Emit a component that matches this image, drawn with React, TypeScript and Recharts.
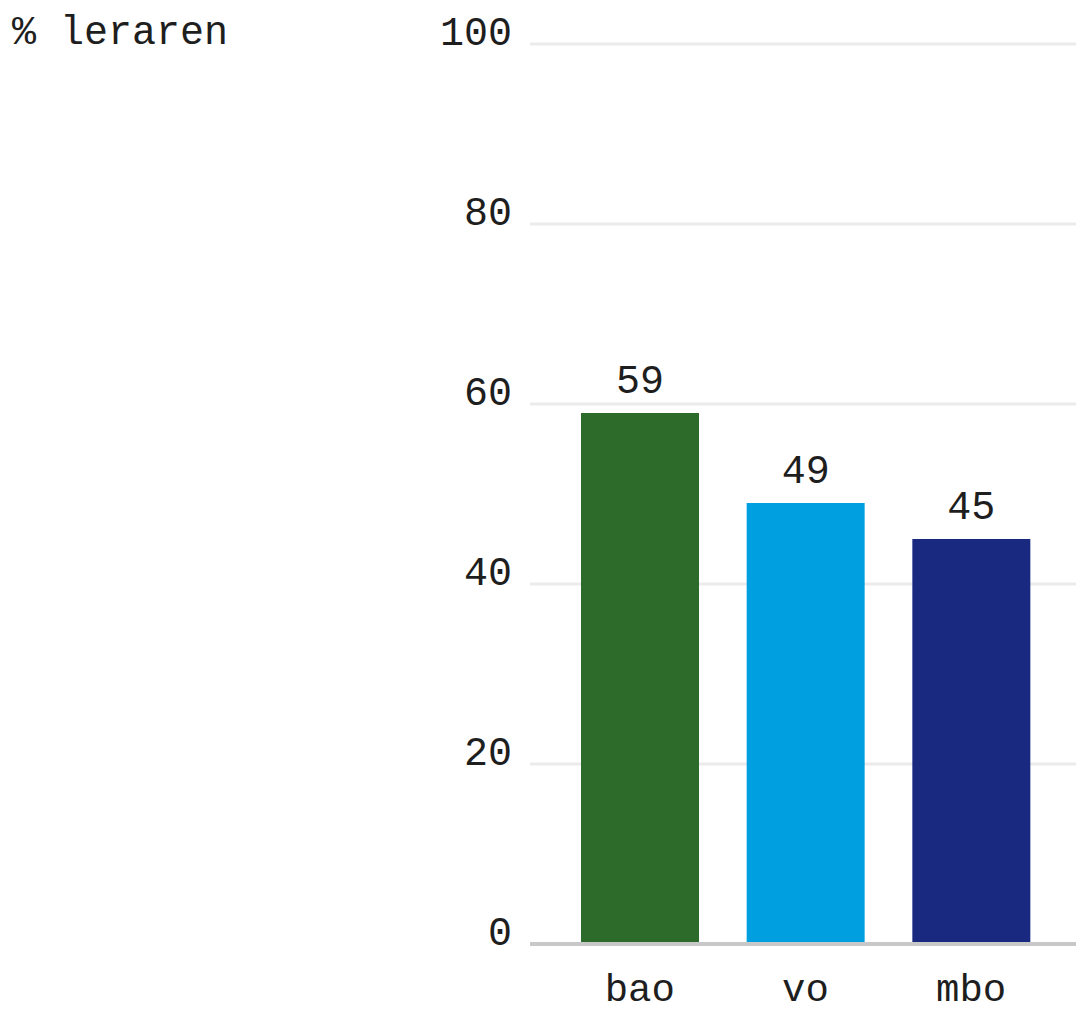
import { BarChart, Bar, XAxis, YAxis, CartesianGrid, Cell, LabelList } from 'recharts';

const categorieen = ['bao', 'vo', 'mbo'];
const percentages = [59, 49, 45];
const kleuren = ['#2d6b2a', '#009fe0', '#1a2980'];
const yTicks = [0, 20, 40, 60, 80, 100];

const data = categorieen.map((c, i) => ({ sector: c, waarde: percentages[i] }));

const FONT = '"Liberation Mono", "DejaVu Sans Mono", monospace';

const YTick = (props: any) => {
    const { x, y, payload } = props;
    return (
        <text x={x} y={y} dy={1} textAnchor="end" fill="#1e1e1e" fontSize={40} fontFamily={FONT}>
            {payload.value}
        </text>
    );
};

const XTick = (props: any) => {
    const { x, y, payload } = props;
    return (
        <text x={x} y={y + 57} textAnchor="middle" fill="#1e1e1e" fontSize={39} fontFamily={FONT}>
            {payload.value}
        </text>
    );
};

const App = () => {
    return (
        <div style={{ position: 'absolute', left: 0, top: 0, width: 1076, height: 1014, background: '#fff' }}>
            <div style={{ position: 'absolute', left: 12, top: 10, fontSize: 40, fontFamily: FONT, color: '#1e1e1e', lineHeight: '48px' }}>
                % leraren
            </div>
            <BarChart
                width={1076}
                height={1014}
                data={data}
                margin={{ top: 44, right: 0, left: 0, bottom: 0 }}
            >
                <CartesianGrid vertical={false} stroke="#ebebeb" strokeWidth={3} />
                <XAxis
                    dataKey="sector"
                    height={70}
                    padding={{ left: 27, right: 22 }}
                    tickLine={false}
                    tickSize={0}
                    tickMargin={0}
                    axisLine={{ stroke: '#c8c8c8', strokeWidth: 4 }}
                    tick={<XTick />}
                />
                <YAxis
                    width={530}
                    domain={[0, 100]}
                    ticks={yTicks}
                    axisLine={false}
                    tickLine={false}
                    tickSize={0}
                    tickMargin={18}
                    tick={<YTick />}
                />
                <Bar dataKey="waarde" barSize={118} isAnimationActive={false}>
                    {data.map((d, i) => (
                        <Cell key={d.sector} fill={kleuren[i]} />
                    ))}
                    <LabelList
                        dataKey="waarde"
                        position="top"
                        offset={20}
                        fill="#1e1e1e"
                        fontSize={40}
                        fontFamily={FONT}
                    />
                </Bar>
            </BarChart>
        </div>
    );
};

export default App;
